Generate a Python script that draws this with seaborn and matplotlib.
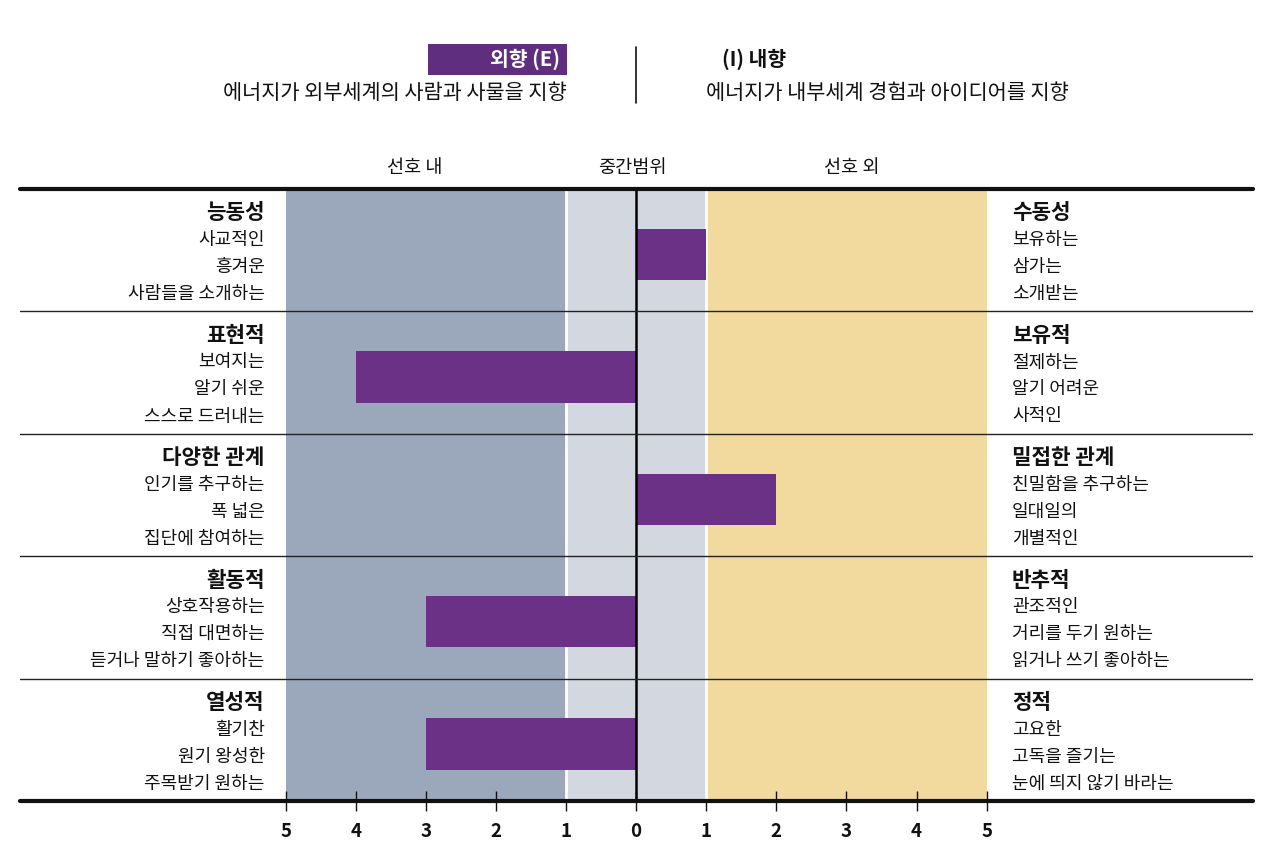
import matplotlib
matplotlib.use('Agg')
import matplotlib.pyplot as plt
import seaborn as sns
from matplotlib.patches import Rectangle

sns.set_theme(style='white')
plt.rcParams['font.family'] = ['Noto Sans CJK KR', 'DejaVu Sans']
plt.rcParams['axes.unicode_minus'] = False

# data
rows = ['능동성', '표현적', '다양한 관계', '활동적', '열성적']
scores = [1, -4, 2, -3, -3]          # + = 내향 쪽, - = 외향 쪽
left_words = [
    ['사교적인', '흥겨운', '사람들을 소개하는'],
    ['보여지는', '알기 쉬운', '스스로 드러내는'],
    ['인기를 추구하는', '폭 넓은', '집단에 참여하는'],
    ['상호작용하는', '직접 대면하는', '듣거나 말하기 좋아하는'],
    ['활기찬', '원기 왕성한', '주목받기 원하는'],
]
right_titles = ['수동성', '보유적', '밀접한 관계', '반추적', '정적']
right_words = [
    ['보유하는', '삼가는', '소개받는'],
    ['절제하는', '알기 어려운', '사적인'],
    ['친밀함을 추구하는', '일대일의', '개별적인'],
    ['관조적인', '거리를 두기 원하는', '읽거나 쓰기 좋아하는'],
    ['고요한', '고독을 즐기는', '눈에 띄지 않기 바라는'],
]
ticks = [-5, -4, -3, -2, -1, 0, 1, 2, 3, 4, 5]
zones = ['선호 내', '중간범위', '선호 외']

W, H = 1280, 861
PURPLE = '#6a3187'


def fx(px):
    return px / W


def fy(py):
    return 1 - py / H


def main():
    fig = plt.figure(figsize=(12.8, 8.61), dpi=100)
    ax = fig.add_axes([fx(20), fy(801), 1233 / W, 612 / H])

    ax.axvspan(-5, -1, color='#9ba7ba', lw=0, zorder=0)
    ax.axvspan(-1, 1, color='#d3d7df', lw=0, zorder=0)
    ax.axvspan(1, 5, color='#f2da9f', lw=0, zorder=0)

    sns.barplot(x=scores, y=rows, orient='h', color=PURPLE, width=0.42,
                saturation=1, linewidth=0, edgecolor='none', ax=ax, zorder=2)

    ax.axvline(-1, color='white', lw=2, zorder=1)
    ax.axvline(1, color='white', lw=2, zorder=1)
    ax.axvline(0, color='black', lw=1.8, zorder=3)

    ax.set_xlim(-8.79, 8.80)
    top = -0.535
    ax.set_ylim(top + 5, top)

    for i in range(1, 5):
        ax.axhline(top + i, color='#222222', lw=1.0, zorder=3)
    ax.axhline(top, color='#111111', lw=3, zorder=4, clip_on=False)
    ax.axhline(top + 5, color='#111111', lw=3, zorder=4, clip_on=False)

    for s in ax.spines.values():
        s.set_visible(False)
    ax.set_yticks([])
    ax.set_ylabel('')
    ax.set_xticks(ticks)
    ax.set_xticklabels([str(abs(t)) for t in ticks], fontsize=13.5,
                       fontweight='bold', color='#111111')
    ax.tick_params(axis='x', direction='inout', length=14, width=1,
                   color='#111111', pad=8, bottom=True)

    offs = [0.196, 0.417, 0.637, 0.858]
    for i in range(5):
        y0 = top + i
        ax.text(-5.3, y0 + offs[0], rows[i], ha='right', va='center',
                fontsize=15.3, fontweight='bold', color='#111111')
        ax.text(5.36, y0 + offs[0], right_titles[i], ha='left', va='center',
                fontsize=15.3, fontweight='bold', color='#111111')
        for k in range(3):
            ax.text(-5.3, y0 + offs[k + 1], left_words[i][k], ha='right',
                    va='center', fontsize=13, color='#111111')
            ax.text(5.36, y0 + offs[k + 1], right_words[i][k], ha='left',
                    va='center', fontsize=13, color='#111111')

    # header
    fig.patches.append(Rectangle((fx(428), fy(75)), 139 / W, 31 / H,
                                 transform=fig.transFigure,
                                 color='#5f2e7f', lw=0))
    fig.text(fx(560), fy(59), '외향 (E)', ha='right', va='center',
             fontsize=14.7, fontweight='bold', color='white')
    fig.text(fx(722), fy(59), '(I) 내향', ha='left', va='center',
             fontsize=14.7, fontweight='bold', color='#111111')
    fig.text(fx(567), fy(93), '에너지가 외부세계의 사람과 사물을 지향',
             ha='right', va='center', fontsize=15, color='#111111')
    fig.text(fx(706), fy(93), '에너지가 내부세계 경험과 아이디어를 지향',
             ha='left', va='center', fontsize=15, color='#111111')
    fig.add_artist(plt.Line2D([fx(636), fx(636)], [fy(47), fy(103)],
                              transform=fig.transFigure, color='#111111',
                              lw=1.2))

    for name, px in zip(zones, [415, 632, 852]):
        fig.text(fx(px), fy(168), name, ha='center', va='center',
                 fontsize=13.4, color='#111111')

    fig.savefig('out.png', dpi=100, facecolor='white')


if __name__ == '__main__':
    main()
